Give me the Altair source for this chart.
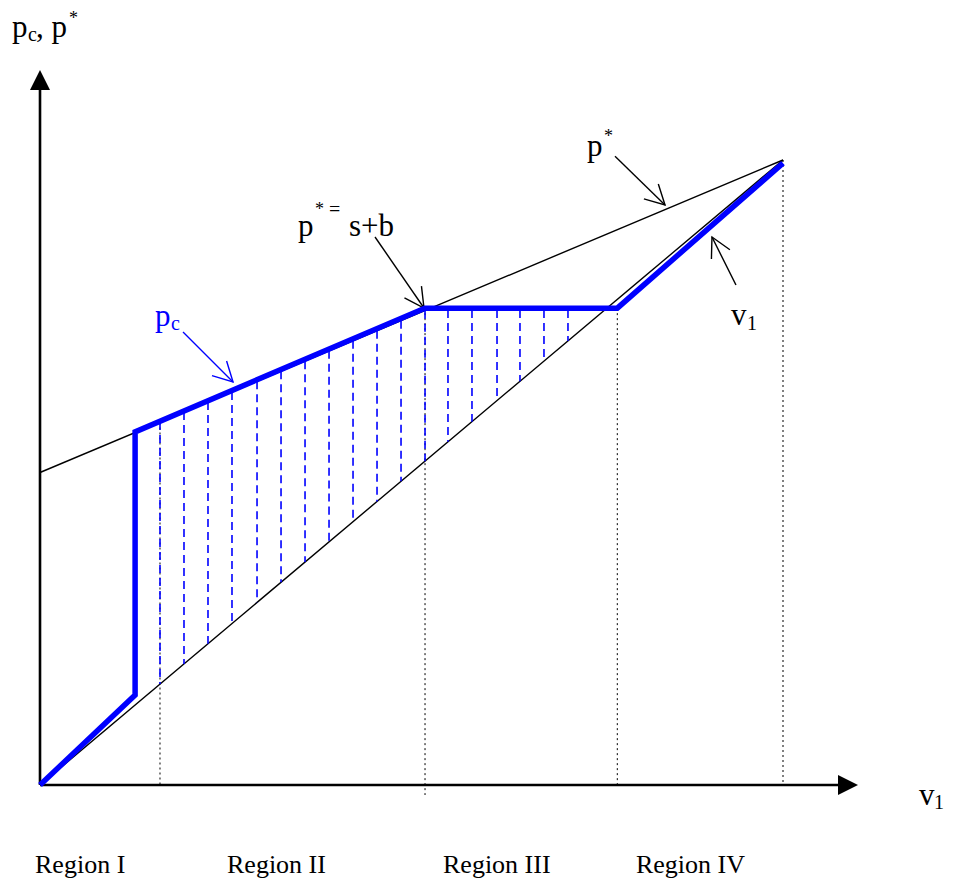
import math
import altair as alt
import pandas as pd

# ---------------- data (in chart units: v1 on x, price on y) ----------------
v1_x = [0.0, 10.0]
v1_y = [0.0, 10.0]
pstar_x = [0.0, 10.0]
pstar_y = [5.0, 10.0]
pc_x = [0.0, 1.28, 1.28, 5.18, 7.77, 10.0]
pc_y = [0.0, 1.44, 5.65, 7.63, 7.63, 9.95]

dash_x = [1.615, 1.938, 2.261, 2.584, 2.921, 3.244, 3.567, 3.890, 4.213,
          4.536, 4.859, 5.182, 5.491, 5.814, 6.151, 6.460, 6.783, 7.106]
dash_top = [5.81, 5.97, 6.13, 6.29, 6.46, 6.62, 6.78, 6.95, 7.11,
            7.27, 7.43, 7.59, 7.60, 7.60, 7.60, 7.60, 7.60, 7.60]
dash_bot = [1.615, 1.938, 2.261, 2.584, 2.921, 3.244, 3.567, 3.890, 4.213,
            4.536, 4.859, 5.182, 5.491, 5.814, 6.151, 6.460, 6.783, 7.106]

dot_x = [1.615, 5.182, 7.77, 10.0]
dot_top = [5.8, 7.63, 7.63, 10.0]
dot_bot = [0.0, -0.16, 0.0, 0.0]

axis_y_x = [0.0, 0.0]
axis_y_y = [0.0, 11.12]
axis_x_x = [0.0, 10.77]
axis_x_y = [0.0, 0.0]
head_up = (0.0, 11.28)
head_right = (10.875, 0.0)

# annotation arrows: (tail, tip)
arrows_black = [((7.739, 10.06), (8.412, 9.28)),
                ((4.509, 8.768), (5.168, 7.632)),
                ((9.367, 8.00), (9.044, 8.768))]
arrows_blue = [((1.925, 7.248), (2.598, 6.448))]

# labels: text, x, y, font size, colour
lab_text = ["p", "c", ", p", "*",
            "p", "*", "=", "s+b",
            "p", "*",
            "v", "1",
            "v", "1",
            "p", "c",
            "Region I", "Region II", "Region III", "Region IV"]
lab_x = [-0.377, -0.1615, -0.054, 0.390,
         3.472, 3.701, 3.890, 4.159,
         7.362, 7.591,
         9.300, 9.515,
         11.830, 12.032,
         1.548, 1.763,
         -0.067, 2.517, 5.424, 8.021]
lab_y = [11.968, 11.904, 11.968, 12.176,
         8.784, 9.12, 9.104, 8.784,
         10.064, 10.288,
         7.36, 7.28,
         -0.32, -0.384,
         7.344, 7.28,
         -1.408, -1.408, -1.408, -1.408]
lab_size = [31, 20, 31, 18,
            31, 18, 20, 31,
            31, 18,
            31, 20,
            31, 20,
            31, 20,
            26, 26, 26, 26]
lab_color = ["black"] * 14 + ["#0000ff"] * 2 + ["black"] * 4

# ---------------- layout helpers ----------------
KX, KY = 74.3, 62.5          # pixels per unit
W, H = 937, 872
XD = [-0.4307, -0.4307 + W / KX]
YD = [12.432 - H / KY, 12.432]
xs = alt.Scale(domain=XD, nice=False, zero=False)
ys = alt.Scale(domain=YD, nice=False, zero=False)
FONT = "Liberation Serif"


def poly_df(pts_list):
    rows = []
    for g, pts in enumerate(pts_list):
        for o, (x, y) in enumerate(pts):
            rows.append({"x": x, "y": y, "g": g, "o": o})
    return pd.DataFrame(rows)


def arrow_polys(tail, tip, L=22, ang=28):
    dxp = (tip[0] - tail[0]) * KX
    dyp = -(tip[1] - tail[1]) * KY
    n = math.hypot(dxp, dyp)
    bx, by = -dxp / n, -dyp / n
    ends = []
    for s in (1, -1):
        a = math.radians(s * ang)
        rx = bx * math.cos(a) - by * math.sin(a)
        ry = bx * math.sin(a) + by * math.cos(a)
        ends.append((tip[0] + L * rx / KX, tip[1] - L * ry / KY))
    return [[tail, tip], [ends[0], tip, ends[1]]]


def X():
    return alt.X("x:Q", scale=xs, axis=None)


def Y():
    return alt.Y("y:Q", scale=ys, axis=None)


def lines(df, color, width, dash=None, cap="butt"):
    kw = dict(color=color, strokeWidth=width, strokeCap=cap, strokeJoin="miter")
    if dash:
        kw["strokeDash"] = dash
    return alt.Chart(df).mark_line(**kw).encode(
        x=X(), y=Y(), detail="g:N", order="o:Q")


# thin black lines + black arrows
black_polys = [list(zip(v1_x, v1_y)), list(zip(pstar_x, pstar_y))]
for t, p in arrows_black:
    black_polys += arrow_polys(t, p)
blue_arrow_polys = []
for t, p in arrows_blue:
    blue_arrow_polys += arrow_polys(t, p)

dot_df = pd.DataFrame({"x": dot_x, "y": dot_top, "y2": dot_bot})
dash_df = pd.DataFrame({"x": dash_x, "y": dash_top, "y2": dash_bot})

dotted = alt.Chart(dot_df).mark_rule(color="black", strokeWidth=1, strokeDash=[2, 3]).encode(
    x=X(), y=Y(), y2="y2:Q")
dashed = alt.Chart(dash_df).mark_rule(color="#0000ff", strokeWidth=1.6, strokeDash=[8, 5]).encode(
    x=X(), y=Y(), y2="y2:Q")

thin = lines(poly_df(black_polys), "black", 1.4)
blue_arrow = lines(poly_df(blue_arrow_polys), "#0000ff", 1.4)
axes = lines(poly_df([list(zip(axis_y_x, axis_y_y)), list(zip(axis_x_x, axis_x_y))]), "black", 2.6)
pc = lines(poly_df([list(zip(pc_x, pc_y))]), "#0000ff", 5.5)

up = alt.Chart(pd.DataFrame({"x": [head_up[0]], "y": [head_up[1]]})).mark_point(
    shape="M0,-1L1,1L-1,1Z", filled=True, color="black", size=400, opacity=1).encode(x=X(), y=Y())
right = alt.Chart(pd.DataFrame({"x": [head_right[0]], "y": [head_right[1]]})).mark_point(
    shape="M1,0L-1,-1L-1,1Z", filled=True, color="black", size=400, opacity=1).encode(x=X(), y=Y())

lab_df = pd.DataFrame({"t": lab_text, "x": lab_x, "y": lab_y, "s": lab_size, "c": lab_color})
labels = alt.Chart(lab_df).mark_text(font=FONT, align="left", baseline="alphabetic").encode(
    x=X(), y=Y(), text="t:N",
    size=alt.Size("s:Q", scale=None, legend=None),
    color=alt.Color("c:N", scale=None, legend=None))

chart = alt.layer(dotted, thin, dashed, axes, up, right, pc, blue_arrow, labels).properties(
    width=W, height=H, padding=0, autosize=alt.AutoSizeParams(type="none"),
    background="white"
).configure_view(stroke=None)

chart.save("out.html", embed_options={"renderer": "svg", "actions": False})
